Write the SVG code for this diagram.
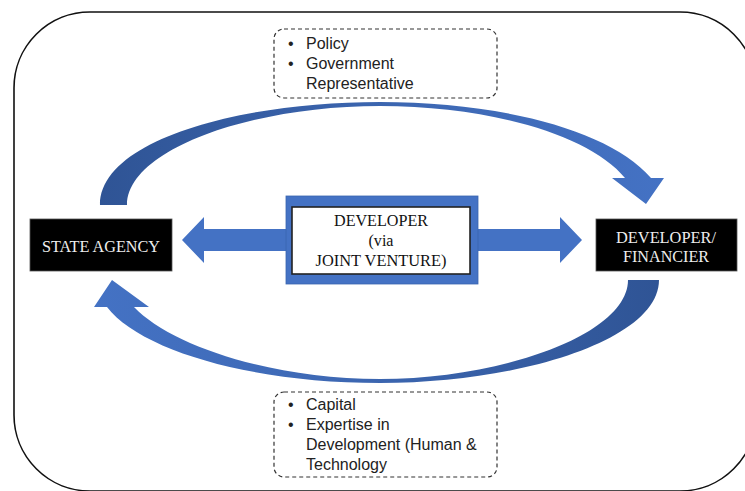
<svg xmlns="http://www.w3.org/2000/svg" width="745" height="491" viewBox="0 0 745 491">
<defs>
<style>
.frame{fill:#fff;stroke:#111;stroke-width:1.6}
.blk{fill:#000;stroke:#555;stroke-width:0.8}
.wt{font-family:"Liberation Serif","Times New Roman",serif;font-size:17px;fill:#eee;text-anchor:middle}
.bt{font-family:"Liberation Serif","Times New Roman",serif;font-size:17px;fill:#111;text-anchor:middle}
.note{fill:#fff;stroke:#333;stroke-width:1.2;stroke-dasharray:4 3}
.nt{font-family:"Liberation Sans",Arial,sans-serif;font-size:16px;fill:#222}
.blue{fill:#4472C4}
</style>
<linearGradient id="gTop" x1="100" y1="0" x2="664" y2="0" gradientUnits="userSpaceOnUse">
<stop offset="0" stop-color="#2F5495"/>
<stop offset="0.6" stop-color="#3E69B5"/>
<stop offset="1" stop-color="#4472C4"/>
</linearGradient>
<linearGradient id="gBot" x1="659" y1="0" x2="94" y2="0" gradientUnits="userSpaceOnUse">
<stop offset="0" stop-color="#2F5495"/>
<stop offset="0.6" stop-color="#3E69B5"/>
<stop offset="1" stop-color="#4472C4"/>
</linearGradient>
</defs>
<rect width="745" height="491" fill="#fff"/>
<rect class="frame" x="14" y="12" width="742" height="479" rx="76" ry="76"/>

<g id="connectors">
<path id="arrow-top" fill="url(#gTop)" d="M100,205 C100,140 240,102 380,102 C500,102 610,130 651,178 L664,178 L646,204 L612,178 L625,178 C590,135 490,106 380,106 C250,106 127,150 127,205 Z"/>
<path id="arrow-bottom" fill="url(#gBot)" d="M659,280 C659,340 520,383 380,383 C250,383 140,350 107,307 L94,307 L112,280 L149,307 L134,307 C170,345 270,379 380,379 C500,379 628,335 628,280 Z"/>
<path id="arrow-left" class="blue" d="M287,229 L204,229 L204,217 L182,240 L204,263 L204,251 L287,251 Z"/>
<path id="arrow-right" class="blue" d="M478,229 L560,229 L560,217 L582,240 L560,263 L560,251 L478,251 Z"/>
</g>

<g id="state-agency">
<rect class="blk" x="30" y="219" width="142" height="52"/>
<text class="wt" x="101" y="252" textLength="118" lengthAdjust="spacingAndGlyphs">STATE AGENCY</text>
</g>

<g id="developer-financier">
<rect class="blk" x="596" y="219" width="141" height="52"/>
<text class="wt" x="666" y="242.5" textLength="100" lengthAdjust="spacingAndGlyphs">DEVELOPER/</text>
<text class="wt" x="666" y="262" textLength="86" lengthAdjust="spacingAndGlyphs">FINANCIER</text>
</g>

<g id="developer-jv">
<rect class="blue" x="286" y="196" width="192" height="88" stroke="#3B65B0" stroke-width="0.8"/>
<rect x="292" y="207" width="178" height="67" fill="#fff" stroke="#222" stroke-width="1.6"/>
<text class="bt" x="381" y="226" textLength="94" lengthAdjust="spacingAndGlyphs">DEVELOPER</text>
<text class="bt" x="381" y="246" textLength="25" lengthAdjust="spacingAndGlyphs">(via</text>
<text class="bt" x="381" y="265.5" textLength="131" lengthAdjust="spacingAndGlyphs">JOINT VENTURE)</text>
</g>

<g id="note-top">
<rect class="note" x="274" y="29" width="223" height="69" rx="10" ry="10"/>
<text class="nt" x="288" y="49">•</text>
<text class="nt" x="306" y="49">Policy</text>
<text class="nt" x="288" y="69">•</text>
<text class="nt" x="306" y="69">Government</text>
<text class="nt" x="306" y="88.5">Representative</text>
</g>

<g id="note-bottom">
<rect class="note" x="274" y="392" width="223" height="85" rx="10" ry="10"/>
<text class="nt" x="288" y="410">•</text>
<text class="nt" x="306" y="410">Capital</text>
<text class="nt" x="288" y="430">•</text>
<text class="nt" x="306" y="430">Expertise in</text>
<text class="nt" x="306" y="450">Development (Human &amp;</text>
<text class="nt" x="306" y="470">Technology</text>
</g>
</svg>
